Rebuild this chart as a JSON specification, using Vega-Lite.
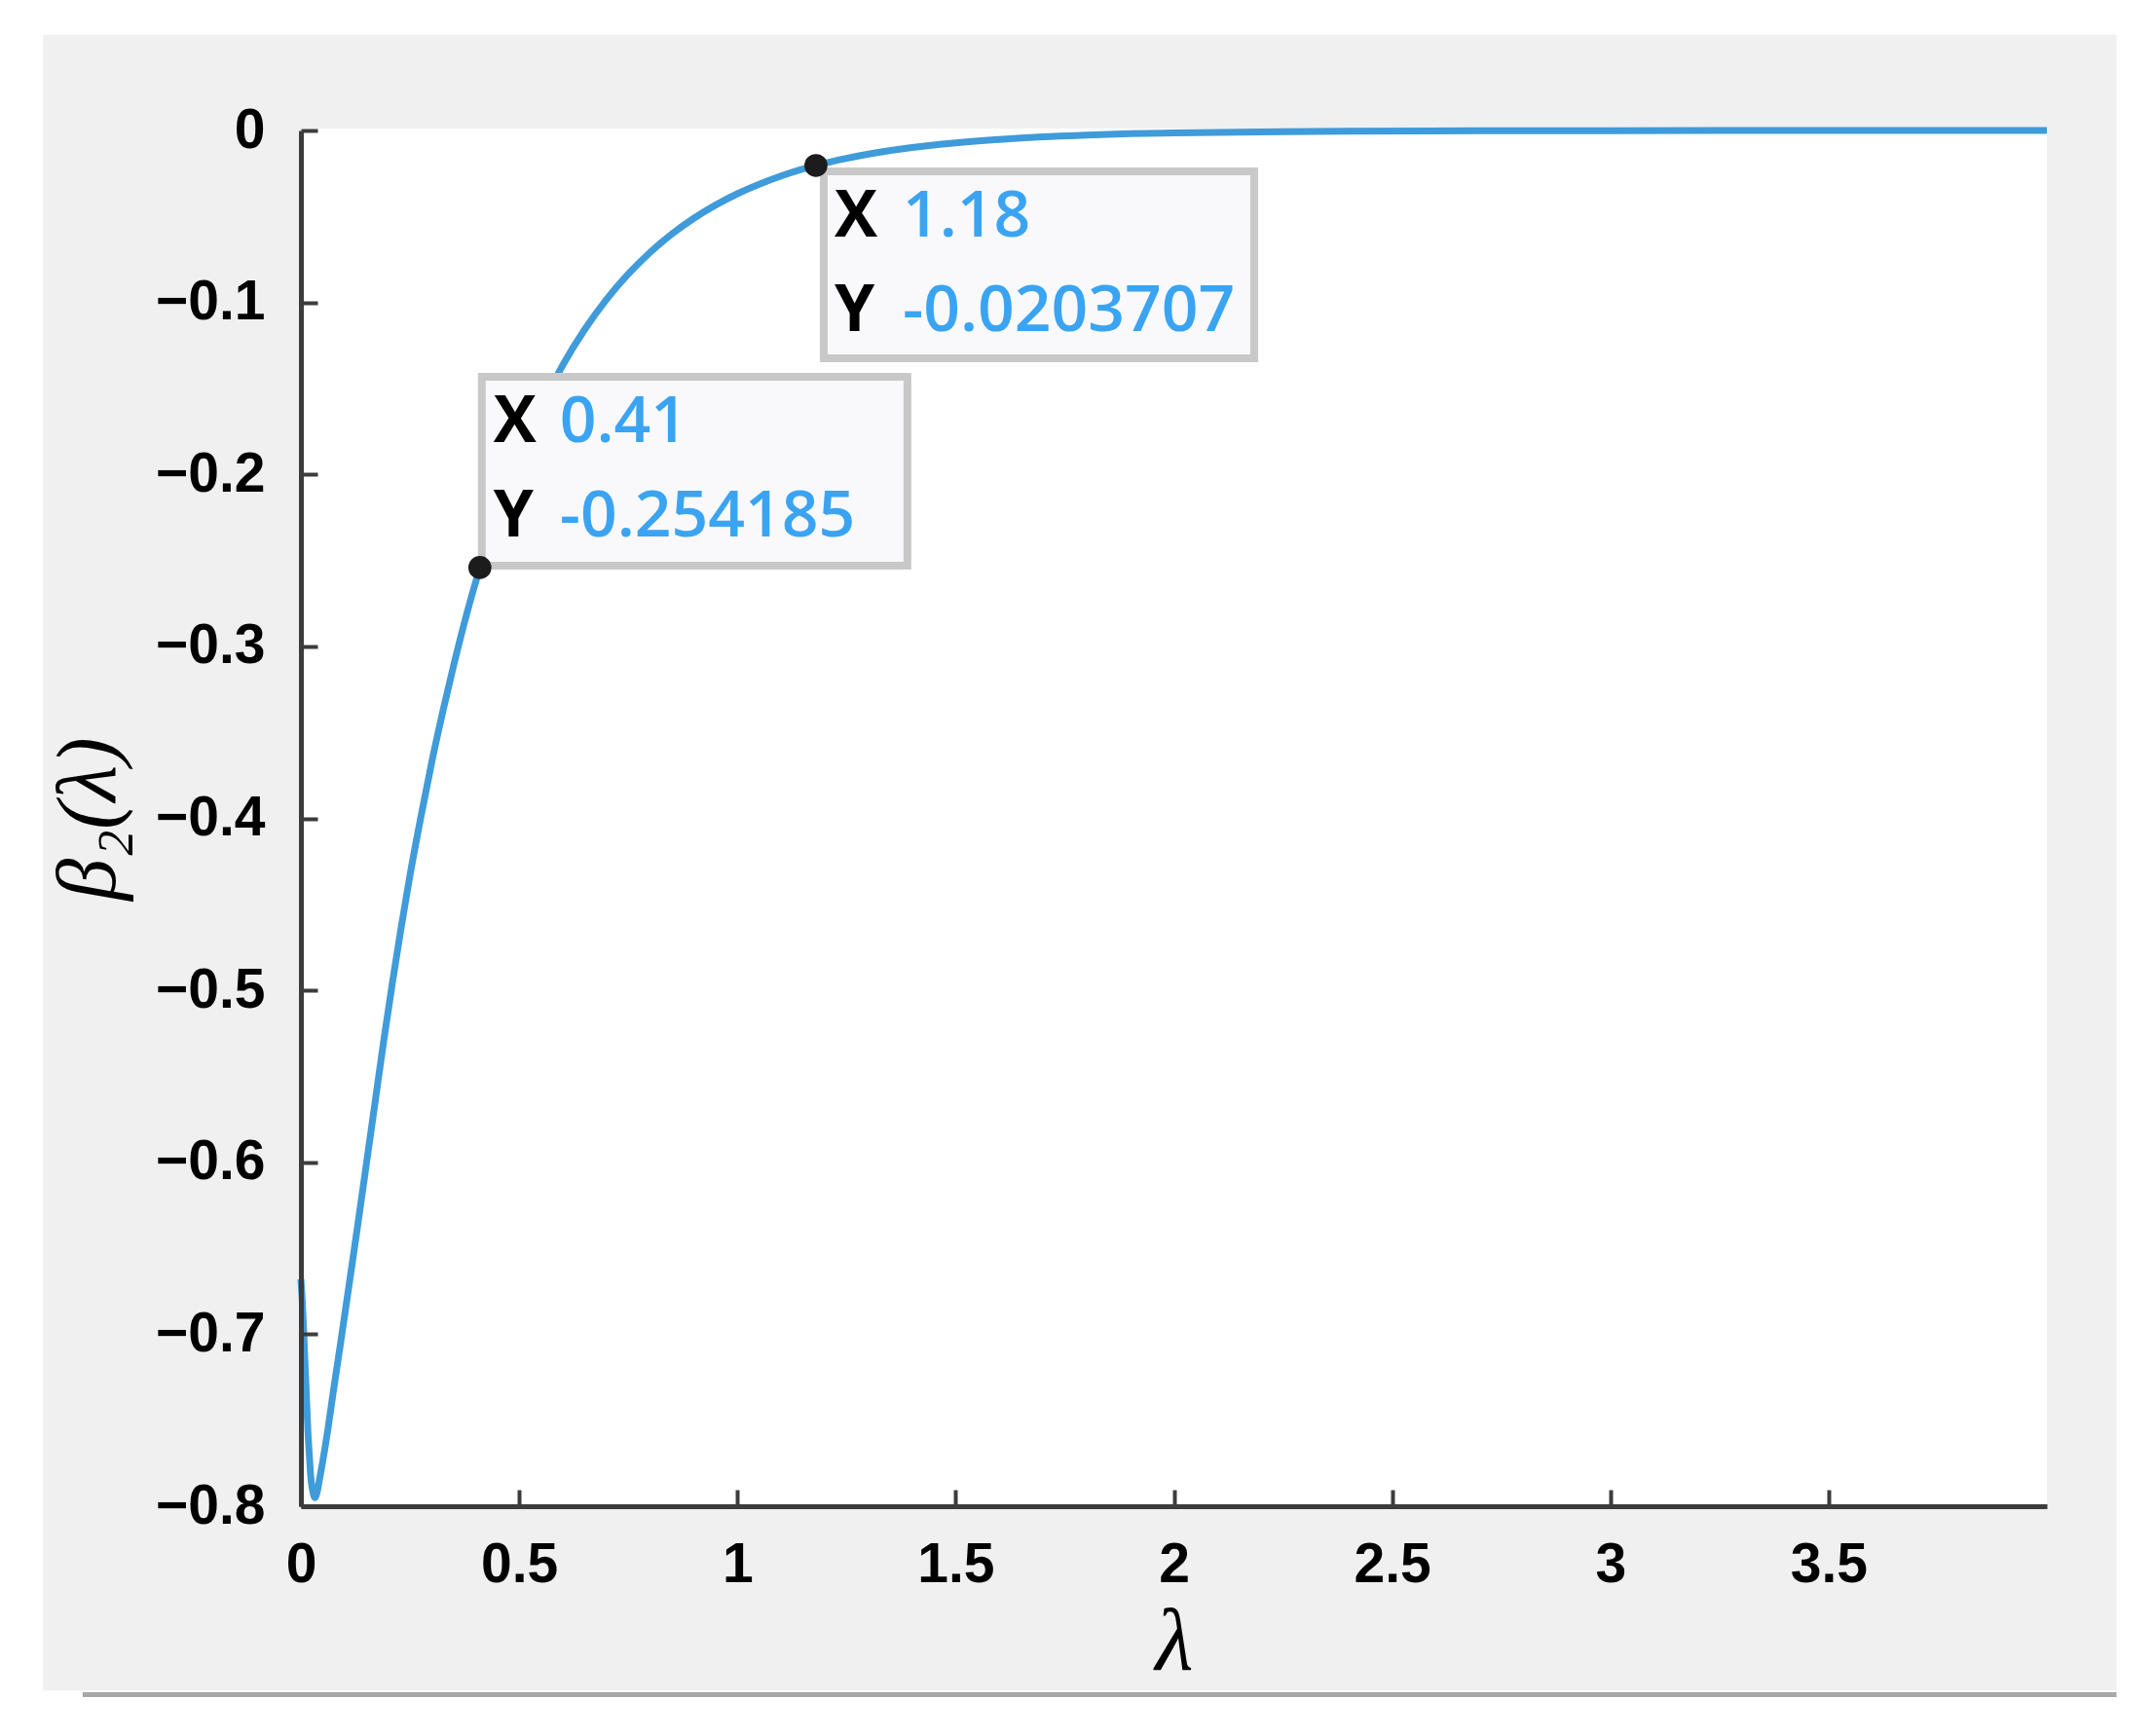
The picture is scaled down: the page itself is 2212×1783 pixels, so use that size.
{
  "$schema": "https://vega.github.io/schema/vega-lite/v6.json",
  "autosize": "none",
  "width": 1793,
  "height": 1413,
  "padding": {"left": 309, "top": 134, "right": 110, "bottom": 236},
  "background": "white",
  "view": {"stroke": null, "fill": null},
  "datasets": {
    "curve": [
      {"lam": 0, "b": -0.668}, {"lam": 0.004, "b": -0.685}, {"lam": 0.007, "b": -0.702},
      {"lam": 0.012, "b": -0.732}, {"lam": 0.016, "b": -0.756}, {"lam": 0.02, "b": -0.773},
      {"lam": 0.023, "b": -0.784}, {"lam": 0.027, "b": -0.791}, {"lam": 0.032, "b": -0.795},
      {"lam": 0.037, "b": -0.792}, {"lam": 0.043, "b": -0.784}, {"lam": 0.05, "b": -0.774},
      {"lam": 0.062, "b": -0.755}, {"lam": 0.075, "b": -0.732}, {"lam": 0.091, "b": -0.705},
      {"lam": 0.11, "b": -0.672}, {"lam": 0.13, "b": -0.637}, {"lam": 0.15, "b": -0.601},
      {"lam": 0.17, "b": -0.565}, {"lam": 0.19, "b": -0.529}, {"lam": 0.21, "b": -0.495},
      {"lam": 0.23, "b": -0.463}, {"lam": 0.25, "b": -0.433}, {"lam": 0.275, "b": -0.399},
      {"lam": 0.3, "b": -0.367}, {"lam": 0.325, "b": -0.338}, {"lam": 0.35, "b": -0.311},
      {"lam": 0.38, "b": -0.281}, {"lam": 0.41, "b": -0.254185}, {"lam": 0.45, "b": -0.2228},
      {"lam": 0.5, "b": -0.1893}, {"lam": 0.55, "b": -0.1607}, {"lam": 0.6, "b": -0.1364},
      {"lam": 0.65, "b": -0.1158}, {"lam": 0.7, "b": -0.0983}, {"lam": 0.75, "b": -0.0835},
      {"lam": 0.8, "b": -0.0709}, {"lam": 0.85, "b": -0.0602}, {"lam": 0.9, "b": -0.0511},
      {"lam": 0.95, "b": -0.0434}, {"lam": 1.0, "b": -0.0368}, {"lam": 1.05, "b": -0.0313},
      {"lam": 1.1, "b": -0.0265}, {"lam": 1.18, "b": -0.0203707}, {"lam": 1.25, "b": -0.0162},
      {"lam": 1.32, "b": -0.0129}, {"lam": 1.4, "b": -0.0099}, {"lam": 1.5, "b": -0.0072},
      {"lam": 1.6, "b": -0.0052}, {"lam": 1.7, "b": -0.0037}, {"lam": 1.8, "b": -0.0027},
      {"lam": 1.9, "b": -0.0019}, {"lam": 2.0, "b": -0.0014}, {"lam": 2.2, "b": -0.0008},
      {"lam": 2.4, "b": -0.0004}, {"lam": 2.7, "b": -0.0002}, {"lam": 3.0, "b": -0.0001},
      {"lam": 3.5, "b": -0.00003}, {"lam": 4.0, "b": 0}
    ],
    "tips": [
      {"lam": 0.41, "b": -0.254185, "xs": "0.41", "ys": "-0.254185"},
      {"lam": 1.18, "b": -0.0203707, "xs": "1.18", "ys": "-0.0203707"}
    ],
    "one": [{"k": 1}]
  },
  "layer": [
    {
      "data": {"name": "one"},
      "mark": {"type": "rect", "fill": "#f0f0f0", "clip": false},
      "encoding": {
        "x": {
          "datum": -0.5907, "type": "quantitative",
          "scale": {"domain": [0, 4], "nice": false, "zero": false},
          "axis": {
            "zindex": 2,
            "values": [0, 0.5, 1, 1.5, 2, 2.5, 3, 3.5],
            "format": "~g",
            "labelFlush": false,
            "labelPadding": 49,
            "title": "λ",
            "titleFontSize": 90,
            "titlePadding": 8
          }
        },
        "x2": {"datum": 4.1596},
        "y": {
          "datum": 0.0557, "type": "quantitative",
          "scale": {"domain": [-0.8, 0], "nice": false, "zero": false},
          "axis": {
            "zindex": 2,
            "values": [0, -0.1, -0.2, -0.3, -0.4, -0.5, -0.6, -0.7, -0.8],
            "format": ".1~f",
            "labelFlush": false,
            "labelPadding": 54,
            "title": "β₂(λ)",
            "titleFontSize": 86,
            "titlePadding": 24
          }
        },
        "y2": {"datum": -0.9072}
      }
    },
    {
      "data": {"name": "one"},
      "mark": {"type": "rule", "color": "#a8a8a8", "strokeWidth": 5, "clip": false},
      "encoding": {
        "x": {"datum": -0.5, "type": "quantitative"},
        "x2": {"datum": 4.1596},
        "y": {"datum": -0.9095, "type": "quantitative"}
      }
    },
    {
      "data": {"name": "one"},
      "mark": {"type": "rect", "fill": "white"},
      "encoding": {
        "x": {"datum": 0, "type": "quantitative"},
        "x2": {"datum": 4},
        "y": {"datum": 0.0012, "type": "quantitative"},
        "y2": {"datum": -0.8}
      }
    },
    {
      "data": {"name": "curve"},
      "mark": {"type": "line", "color": "#3f9bda", "strokeWidth": 7, "interpolate": "monotone", "clip": false},
      "encoding": {
        "x": {"field": "lam", "type": "quantitative"},
        "y": {"field": "b", "type": "quantitative"}
      }
    },
    {
      "data": {"name": "tips"},
      "transform": [{"filter": "datum.lam < 1"}],
      "mark": {"type": "rect", "fill": "#f9f9fc", "stroke": "#c8c8c8", "strokeWidth": 8, "xOffset": 2, "x2Offset": 439, "yOffset": -2, "y2Offset": -196},
      "encoding": {
        "x": {"field": "lam", "type": "quantitative"},
        "x2": {"field": "lam"},
        "y": {"field": "b", "type": "quantitative"},
        "y2": {"field": "b"}
      }
    },
    {
      "data": {"name": "tips"},
      "transform": [{"filter": "datum.lam > 1"}],
      "mark": {"type": "rect", "fill": "#f9f9fc", "stroke": "#c8c8c8", "strokeWidth": 8, "xOffset": 8, "x2Offset": 450, "yOffset": 6, "y2Offset": 198},
      "encoding": {
        "x": {"field": "lam", "type": "quantitative"},
        "x2": {"field": "lam"},
        "y": {"field": "b", "type": "quantitative"},
        "y2": {"field": "b"}
      }
    },
    {
      "data": {"name": "tips"},
      "transform": [{"filter": "datum.lam < 1"}],
      "mark": {"type": "text", "text": "X", "font": "Open Sans", "fontWeight": "bold", "fontSize": 66, "color": "#000000", "align": "left", "baseline": "alphabetic", "dx": 14, "dy": -129},
      "encoding": {"x": {"field": "lam", "type": "quantitative"}, "y": {"field": "b", "type": "quantitative"}}
    },
    {
      "data": {"name": "tips"},
      "transform": [{"filter": "datum.lam < 1"}],
      "mark": {"type": "text", "text": "Y", "font": "Open Sans", "fontWeight": "bold", "fontSize": 66, "color": "#000000", "align": "left", "baseline": "alphabetic", "dx": 14, "dy": -32},
      "encoding": {"x": {"field": "lam", "type": "quantitative"}, "y": {"field": "b", "type": "quantitative"}}
    },
    {
      "data": {"name": "tips"},
      "transform": [{"filter": "datum.lam < 1"}],
      "mark": {"type": "text", "font": "Open Sans", "fontWeight": 600, "fontSize": 66, "color": "#3aa4f2", "align": "left", "baseline": "alphabetic", "dx": 82, "dy": -129},
      "encoding": {"x": {"field": "lam", "type": "quantitative"}, "y": {"field": "b", "type": "quantitative"}, "text": {"field": "xs"}}
    },
    {
      "data": {"name": "tips"},
      "transform": [{"filter": "datum.lam < 1"}],
      "mark": {"type": "text", "font": "Open Sans", "fontWeight": 600, "fontSize": 66, "color": "#3aa4f2", "align": "left", "baseline": "alphabetic", "dx": 82, "dy": -32},
      "encoding": {"x": {"field": "lam", "type": "quantitative"}, "y": {"field": "b", "type": "quantitative"}, "text": {"field": "ys"}}
    },
    {
      "data": {"name": "tips"},
      "transform": [{"filter": "datum.lam > 1"}],
      "mark": {"type": "text", "text": "X", "font": "Open Sans", "fontWeight": "bold", "fontSize": 66, "color": "#000000", "align": "left", "baseline": "alphabetic", "dx": 19, "dy": 73},
      "encoding": {"x": {"field": "lam", "type": "quantitative"}, "y": {"field": "b", "type": "quantitative"}}
    },
    {
      "data": {"name": "tips"},
      "transform": [{"filter": "datum.lam > 1"}],
      "mark": {"type": "text", "text": "Y", "font": "Open Sans", "fontWeight": "bold", "fontSize": 66, "color": "#000000", "align": "left", "baseline": "alphabetic", "dx": 19, "dy": 170},
      "encoding": {"x": {"field": "lam", "type": "quantitative"}, "y": {"field": "b", "type": "quantitative"}}
    },
    {
      "data": {"name": "tips"},
      "transform": [{"filter": "datum.lam > 1"}],
      "mark": {"type": "text", "font": "Open Sans", "fontWeight": 600, "fontSize": 66, "color": "#3aa4f2", "align": "left", "baseline": "alphabetic", "dx": 89, "dy": 73},
      "encoding": {"x": {"field": "lam", "type": "quantitative"}, "y": {"field": "b", "type": "quantitative"}, "text": {"field": "xs"}}
    },
    {
      "data": {"name": "tips"},
      "transform": [{"filter": "datum.lam > 1"}],
      "mark": {"type": "text", "font": "Open Sans", "fontWeight": 600, "fontSize": 66, "color": "#3aa4f2", "align": "left", "baseline": "alphabetic", "dx": 89, "dy": 170},
      "encoding": {"x": {"field": "lam", "type": "quantitative"}, "y": {"field": "b", "type": "quantitative"}, "text": {"field": "ys"}}
    },
    {
      "data": {"name": "tips"},
      "mark": {"type": "point", "filled": true, "shape": "circle", "size": 560, "color": "#1c1c1c", "opacity": 1},
      "encoding": {"x": {"field": "lam", "type": "quantitative"}, "y": {"field": "b", "type": "quantitative"}}
    }
  ],
  "config": {
    "axis": {
      "domainColor": "#3c3c3c",
      "domainWidth": 5,
      "tickColor": "#3c3c3c",
      "tickWidth": 4,
      "tickSize": -17,
      "grid": false,
      "labelFont": "Liberation Sans",
      "labelFontWeight": "bold",
      "labelFontSize": 57,
      "labelColor": "#000000",
      "titleFont": "Liberation Serif",
      "titleFontStyle": "italic",
      "titleFontWeight": "normal",
      "titleColor": "#000000"
    }
  }
}
